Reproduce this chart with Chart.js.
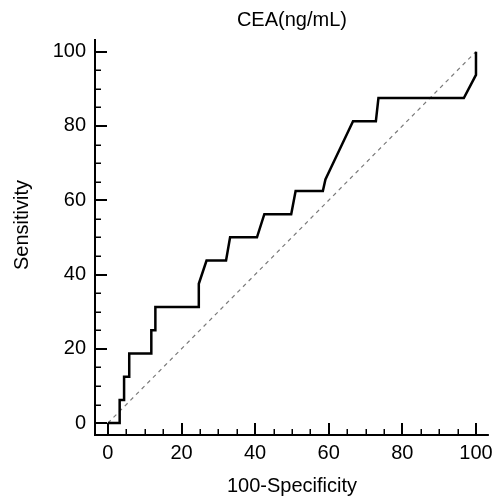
<!DOCTYPE html>
<html><head><meta charset="utf-8">
<script src="https://cdn.jsdelivr.net/npm/chart.js@4.4.0/dist/chart.umd.min.js"></script>
<style>html,body{margin:0;padding:0;background:#fff;} canvas{display:block;}</style>
</head><body>
<canvas id="c" width="499" height="502"></canvas>
<script>
const chartTitle = 'CEA(ng/mL)';
const xAxisTitle = '100-Specificity';
const yAxisTitle = 'Sensitivity';
// ROC curve points: 100-Specificity (x) and Sensitivity (y)
const fpr = [0, 3.2, 3.2, 4.4, 4.4, 5.8, 5.8, 11.8, 11.8, 12.9, 12.9, 24.7, 24.7, 26.8, 32.1, 33.2, 40.5, 42.5, 49.8, 51.0, 58.4, 59.1, 60.6, 63.6, 66.6, 72.8, 73.5, 96.7, 100, 100];
const tpr = [0, 0, 6.25, 6.25, 12.5, 12.5, 18.75, 18.75, 25, 25, 31.25, 31.25, 37.5, 43.75, 43.75, 50, 50, 56.25, 56.25, 62.5, 62.5, 65.6, 68.75, 75, 81.25, 81.25, 87.5, 87.5, 93.75, 100];
// reference diagonal
const refX = [0, 100];
const refY = [0, 100];
const majorTicks = [0, 20, 40, 60, 80, 100];
const minorTicks = [5, 10, 15, 25, 30, 35, 45, 50, 55, 65, 70, 75, 85, 90, 95];

const FONT = "'Liberation Sans', Arial, sans-serif";
Chart.defaults.font.family = FONT;
Chart.defaults.color = '#000';

const toPts = (xs, ys) => xs.map((v, i) => ({x: v, y: ys[i]}));

const axesPlugin = {
  id: 'axesPlugin',
  afterDraw(chart) {
    const {ctx, chartArea: {left, right, top, bottom}, scales: {x, y}} = chart;
    ctx.save();
    ctx.strokeStyle = '#000';
    ctx.lineCap = 'butt';
    ctx.lineWidth = 2;
    ctx.beginPath();
    ctx.moveTo(left, top); ctx.lineTo(left, bottom + 1);
    ctx.moveTo(left - 1, bottom); ctx.lineTo(right, bottom);
    ctx.stroke();
    // major ticks
    ctx.beginPath();
    majorTicks.forEach(v => {
      const px = Math.round(x.getPixelForValue(v));
      ctx.moveTo(px, bottom); ctx.lineTo(px, bottom - 12);
      const py = Math.round(y.getPixelForValue(v));
      ctx.moveTo(left, py); ctx.lineTo(left + 12, py);
    });
    ctx.stroke();
    ctx.lineWidth = 1.5;
    ctx.beginPath();
    minorTicks.forEach(v => {
      const px = Math.round(x.getPixelForValue(v)) + 0.25;
      ctx.moveTo(px, bottom); ctx.lineTo(px, bottom - 6);
      const py = Math.round(y.getPixelForValue(v)) + 0.25;
      ctx.moveTo(left, py); ctx.lineTo(left + 6, py);
    });
    ctx.stroke();
    // y axis title
    ctx.fillStyle = '#000';
    ctx.font = '20px ' + FONT;
    ctx.textAlign = 'center';
    ctx.textBaseline = 'alphabetic';
    ctx.translate(28, 225);
    ctx.rotate(-Math.PI / 2);
    ctx.fillText(yAxisTitle, 0, 0);
    ctx.restore();
  }
};

new Chart(document.getElementById('c'), {
  type: 'scatter',
  data: {
    datasets: [
      {
        data: toPts(fpr, tpr),
        showLine: true,
        borderColor: '#000',
        borderWidth: 2.5,
        pointRadius: 0,
        tension: 0,
        fill: false,
        order: 0,
        clip: false
      },
      {
        data: toPts(refX, refY),
        showLine: true,
        borderColor: '#7a7a7a',
        borderWidth: 1.2,
        borderDash: [4, 4],
        pointRadius: 0,
        tension: 0,
        fill: false,
        order: 1,
        clip: false
      }
    ]
  },
  options: {
    responsive: false,
    animation: false,
    events: [],
    layout: {padding: {left: 0, right: 8, top: 0, bottom: 0}},
    plugins: {
      legend: {display: false},
      tooltip: {enabled: false},
      title: {
        display: true,
        text: chartTitle,
        fullSize: false,
        color: '#000',
        font: {size: 20, weight: 'normal'},
        padding: {top: 8, bottom: 7}
      }
    },
    scales: {
      x: {
        type: 'linear',
        min: -3.5,
        max: 103.5,
        afterFit: s => { s.height = 67; },
        afterBuildTicks: s => { s.ticks = majorTicks.map(v => ({value: v})); },
        grid: {display: false, drawTicks: false},
        border: {display: false},
        ticks: {font: {size: 20}, color: '#000', padding: 6, maxRotation: 0, autoSkip: false},
        title: {display: true, text: xAxisTitle, color: '#000', font: {size: 20}, padding: {top: 0, bottom: 4}}
      },
      y: {
        type: 'linear',
        min: -3.2,
        max: 103.4,
        afterFit: s => { s.width = 95; },
        afterBuildTicks: s => { s.ticks = majorTicks.map(v => ({value: v})); },
        grid: {display: false, drawTicks: false},
        border: {display: false},
        ticks: {font: {size: 20}, color: '#000', padding: 9, autoSkip: false}
      }
    }
  },
  plugins: [axesPlugin]
});
</script>
</body></html>
